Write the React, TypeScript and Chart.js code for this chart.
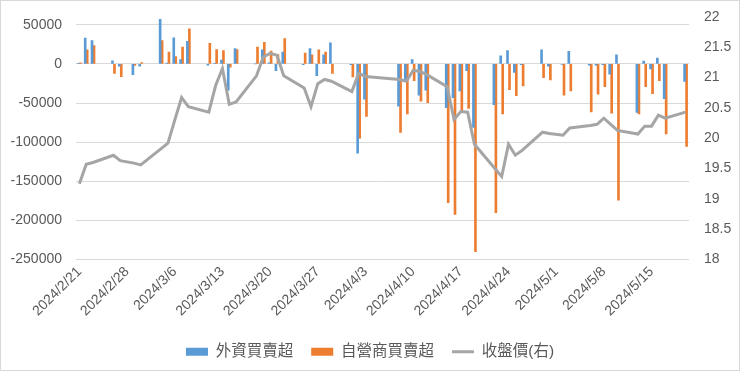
import React, { useEffect, useRef } from 'react';
import { Chart, registerables } from 'chart.js';

Chart.register(...registerables);

// Trading days (the axis itself is a calendar-day axis from the first to the last date)
const tradeDates = [
  '2024/2/21', '2024/2/22', '2024/2/23', '2024/2/26', '2024/2/27', '2024/2/29',
  '2024/3/1', '2024/3/4', '2024/3/5', '2024/3/6', '2024/3/7', '2024/3/8',
  '2024/3/11', '2024/3/12', '2024/3/13', '2024/3/14', '2024/3/15',
  '2024/3/18', '2024/3/19', '2024/3/20', '2024/3/21', '2024/3/22',
  '2024/3/25', '2024/3/26', '2024/3/27', '2024/3/28', '2024/3/29',
  '2024/4/1', '2024/4/2', '2024/4/3',
  '2024/4/8', '2024/4/9', '2024/4/10', '2024/4/11', '2024/4/12',
  '2024/4/15', '2024/4/16', '2024/4/17', '2024/4/18', '2024/4/19',
  '2024/4/22', '2024/4/23', '2024/4/24', '2024/4/25', '2024/4/26',
  '2024/4/29', '2024/4/30', '2024/5/2', '2024/5/3',
  '2024/5/6', '2024/5/7', '2024/5/8', '2024/5/9', '2024/5/10',
  '2024/5/13', '2024/5/14', '2024/5/15', '2024/5/16', '2024/5/17',
  '2024/5/20',
];

// 外資買賣超
const foreignNet = [
  500, 33000, 30000, 4000, -3000, -13800,
  -3000, 57000, 1000, 33500, 5500, 29000,
  -1500, 500, 5000, -33500, 19500,
  0, 18000, 1500, -8500, 15000,
  -1000, 19500, -15000, 11500, 27000,
  -1000, -114000, -45000,
  -54000, -21500, 5500, -40000, -33500,
  -56000, -43000, -34500, -8500, -81000,
  -52000, 10500, 17000, -11000, -1000,
  18000, -3000, -500, 16000,
  -1500, -1500, -1000, -13000, 11500,
  -62000, 3500, -6500, 7500, -44500,
  -22500,
];

// 自營商買賣超
const dealerNet = [
  1500, 18000, 23500, -12000, -16400, -2000,
  1600, 30000, 15000, 9500, 21500, 45000,
  26500, 18500, 17000, -4000, 18500,
  21500, 27500, 16500, 12000, 32500,
  14000, 11500, 18000, 15000, -12000,
  -16500, -95000, -67000,
  -87500, -64000, -21500, -47500, -49500,
  -177500, -192500, -60000, -57000, -240000,
  -190000, -64000, -33000, -40500, -28000,
  -17500, -20500, -40000, -34500,
  -61500, -38500, -29000, -63000, -174000,
  -64000, -29000, -38000, -21500, -89500,
  -105500,
];

// 收盤價(右)
const closePrice = [
  19.25, 19.57, 19.6, 19.72, 19.63, 19.59,
  19.56, 19.83, 19.92, 20.3, 20.67, 20.52,
  20.43, 20.87, 21.15, 20.56, 20.6,
  21.03, 21.34, 21.4, 21.37, 21.03,
  20.83, 20.52, 20.9, 20.97, 20.94,
  20.77, 21.07, 21.02,
  20.97, 20.94, 21.12, 21.1, 21.05,
  20.85, 20.31, 20.44, 20.43, 19.9,
  19.5, 19.37, 19.9, 19.72, 19.8,
  20.1, 20.08, 20.05, 20.17,
  20.21, 20.23, 20.33, 20.23, 20.13,
  20.07, 20.2, 20.2, 20.38, 20.33,
  20.43,
];

const leftTicks = [-250000, -200000, -150000, -100000, -50000, 0, 50000];
const rightTicks = [18, 18.5, 19, 19.5, 20, 20.5, 21, 21.5, 22];
const labelEveryDays = 7;

const seriesNames = ['外資買賣超', '自營商買賣超', '收盤價(右)'];

const FONT = "'Liberation Sans', 'Noto Sans CJK TC', sans-serif";
const TEXT = '#595959';

function parseDate(s: string): number {
  const [y, m, d] = s.split('/').map(Number);
  return Date.UTC(y, m - 1, d);
}
function fmtDate(t: number): string {
  const d = new Date(t);
  return `${d.getUTCFullYear()}/${d.getUTCMonth() + 1}/${d.getUTCDate()}`;
}
function buildCalendar(start: string, end: string): string[] {
  const out: string[] = [];
  const e = parseDate(end);
  for (let t = parseDate(start); t <= e; t += 86400000) out.push(fmtDate(t));
  return out;
}

export default function App() {
  const ref = useRef<HTMLCanvasElement | null>(null);

  useEffect(() => {
    if (!ref.current) return;
    const labels = buildCalendar(tradeDates[0], tradeDates[tradeDates.length - 1]);
    const pos = new Map<string, number>();
    tradeDates.forEach((d, i) => pos.set(d, i));
    const pick = (arr: number[]) =>
      labels.map((l) => (pos.has(l) ? arr[pos.get(l) as number] : null));

    const chart = new Chart(ref.current, {
      type: 'bar',
      data: {
        labels,
        datasets: [
          {
            type: 'bar',
            label: seriesNames[0],
            data: pick(foreignNet),
            backgroundColor: '#5B9BD5',
            borderColor: '#5B9BD5',
            barThickness: 2,
            yAxisID: 'y',
            order: 0,
          },
          {
            type: 'bar',
            label: seriesNames[1],
            data: pick(dealerNet),
            backgroundColor: '#ED7D31',
            borderColor: '#ED7D31',
            barThickness: 2,
            yAxisID: 'y',
            order: 0,
          },
          {
            type: 'line',
            label: seriesNames[2],
            data: pick(closePrice),
            borderColor: '#A5A5A5',
            backgroundColor: '#A5A5A5',
            borderWidth: 3,
            pointRadius: 0,
            tension: 0,
            spanGaps: true,
            yAxisID: 'y1',
            order: -1,
          } as any,
        ],
      },
      options: {
        responsive: false,
        animation: false,
        layout: { padding: { top: 17, left: 0, right: 0, bottom: 1.5 } },
        plugins: {
          tooltip: { enabled: false },
          legend: {
            position: 'bottom',
            labels: {
              color: TEXT,
              font: { family: FONT, size: 15.5 },
              usePointStyle: true,
              pointStyleWidth: 22,
              boxHeight: 8,
              padding: 18,
              generateLabels(ch: any) {
                return ch.data.datasets.map((ds: any, i: number) => ({
                  text: ds.label,
                  datasetIndex: i,
                  fillStyle: ds.backgroundColor,
                  strokeStyle: ds.borderColor,
                  lineWidth: ds.type === 'line' ? 3 : 0,
                  pointStyle: ds.type === 'line' ? 'line' : 'rect',
                  fontColor: TEXT,
                  hidden: false,
                }));
              },
            },
          },
        },
        scales: {
          x: {
            type: 'category',
            offset: true,
            grid: { display: false, drawTicks: false },
            border: { display: false },
            ticks: {
              autoSkip: false,
              maxRotation: 45,
              minRotation: 45,
              padding: 4,
              color: TEXT,
              font: { family: FONT, size: 14 },
              callback(this: any, value: any, index: number) {
                return index % labelEveryDays === 0 ? this.getLabelForValue(value) : null;
              },
            },
            afterFit(scale: any) {
              scale.height = 66.5;
            },
          },
          y: {
            position: 'left',
            min: -250000,
            max: 60000,
            grid: { color: '#D9D9D9', drawTicks: false, lineWidth: 1 },
            border: { display: false },
            ticks: {
              padding: 14,
              color: TEXT,
              font: { family: FONT, size: 14 },
              callback: (v: any) => String(v),
            },
            afterBuildTicks(scale: any) {
              scale.ticks = leftTicks.map((v) => ({ value: v }));
            },
            afterFit(scale: any) {
              scale.width = 76;
              scale.paddingTop = 0;
              scale.paddingBottom = 0;
            },
          },
          y1: {
            position: 'right',
            min: 18,
            max: 22,
            grid: { display: false, drawTicks: false },
            border: { display: false },
            ticks: {
              padding: 15,
              color: TEXT,
              font: { family: FONT, size: 14 },
              callback: (v: any) => String(v),
            },
            afterBuildTicks(scale: any) {
              scale.ticks = rightTicks.map((v) => ({ value: v }));
            },
            afterFit(scale: any) {
              scale.width = 51;
              scale.paddingTop = 0;
              scale.paddingBottom = 0;
            },
          },
        },
      } as any,
    });
    return () => chart.destroy();
  }, []);

  return (
    <div
      style={{
        position: 'fixed',
        left: 0,
        top: 0,
        width: 740,
        height: 371,
        background: '#fff',
        outline: '1px solid #D9D9D9',
        outlineOffset: -1,
      }}
    >
      <canvas ref={ref} width={740} height={371} style={{ display: 'block' }} />
    </div>
  );
}
